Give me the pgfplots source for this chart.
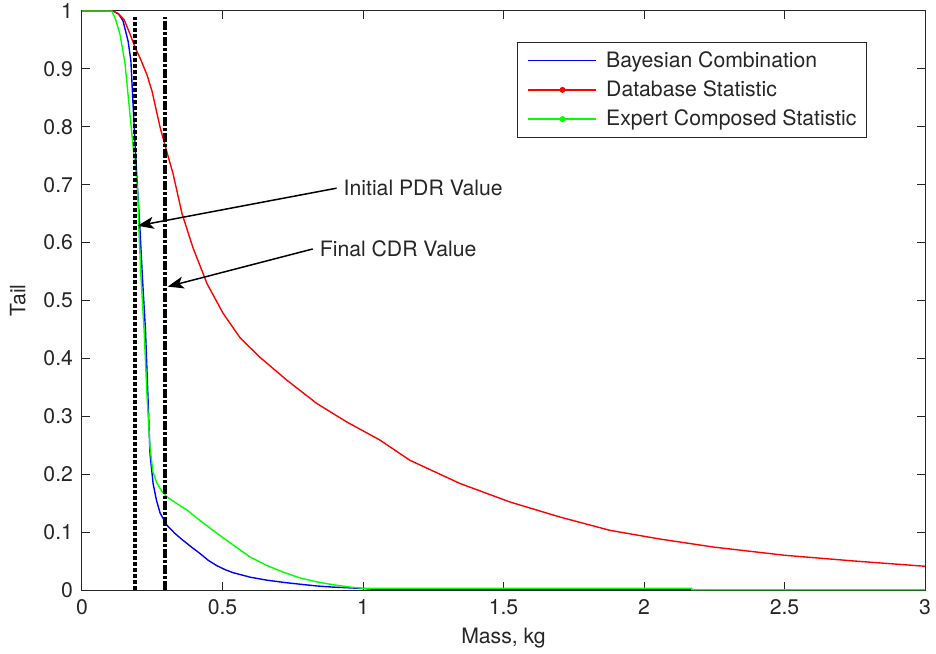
\documentclass[border=0pt]{standalone}
\usepackage{fontspec}
\setmainfont{TeX Gyre Heros}
\usepackage{pgfplots}
\pgfplotsset{compat=1.18}
\usetikzlibrary{arrows.meta}

\definecolor{axgray}{gray}{0.15}
\definecolor{mgreen}{rgb}{0,1,0}

\begin{document}
\begin{tikzpicture}[font=\fontsize{10.6}{12.7}\selectfont]
\begin{axis}[
    scale only axis,
    width=421.5pt,
    height=289.5pt,
    xmin=0, xmax=3,
    ymin=0, ymax=1,
    xtick={0,0.5,...,3},
    ytick={0,0.1,...,1},
    tick align=inside,
    major tick length=4pt,
    axis line style={axgray, line width=0.5pt},
    every tick/.style={axgray, line width=0.5pt},
    tick label style={text=axgray},
    /pgf/number format/assume math mode=true,
    xticklabel style={yshift=-1pt},
    yticklabel style={xshift=-1pt},
    xlabel={Mass, kg},
    ylabel={Tail},
    label style={text=axgray},
    ylabel style={yshift=2pt},
    legend style={at={(0.9312,0.9465)}, anchor=north east, draw=axgray,
        line width=0.5pt, text=axgray, row sep=1.2pt,
        inner xsep=3pt, inner ysep=2.5pt, font=\fontsize{10.6}{12.7}\selectfont},
    legend cell align=left,
    clip=false,
]
% data curves
\addplot[blue, line width=0.7pt, forget plot] coordinates {
(0,1) (0.11,1) (0.13,0.995) (0.146,0.983) (0.164,0.948) (0.174,0.914)
(0.181,0.845) (0.19,0.76) (0.196,0.707) (0.206,0.626) (0.215,0.54)
(0.226,0.448) (0.235,0.33) (0.242,0.236) (0.253,0.184) (0.265,0.155)
(0.278,0.133) (0.302,0.112) (0.33,0.098) (0.359,0.086) (0.39,0.074)
(0.42,0.063) (0.45,0.051) (0.48,0.042) (0.51,0.035) (0.537,0.03) (0.6,0.022)
(0.658,0.017) (0.72,0.013) (0.776,0.01) (0.835,0.007) (0.893,0.005)
(0.94,0.004) (0.982,0.003) (1.05,0.001) (2.17,0.001)
};
\addplot[red, line width=0.7pt, forget plot] coordinates {
(0,1) (0.11,1) (0.13,0.995) (0.15,0.985) (0.171,0.96) (0.189,0.937)
(0.21,0.915) (0.231,0.89) (0.249,0.862) (0.278,0.799) (0.3,0.76)
(0.324,0.719) (0.356,0.65) (0.395,0.591) (0.445,0.529) (0.502,0.478)
(0.562,0.436) (0.633,0.402) (0.73,0.362) (0.836,0.322) (0.943,0.29)
(1.06,0.259) (1.167,0.224) (1.345,0.184) (1.523,0.152) (1.701,0.126)
(1.879,0.103) (2.057,0.088) (2.25,0.074) (2.5,0.06) (2.75,0.05) (3,0.041)
};
\addplot[mgreen, line width=0.7pt, forget plot] coordinates {
(0,1) (0.106,1) (0.12,0.985) (0.135,0.96) (0.153,0.91) (0.171,0.82)
(0.181,0.77) (0.192,0.72) (0.199,0.68) (0.202,0.626) (0.21,0.54)
(0.221,0.448) (0.232,0.33) (0.242,0.247) (0.252,0.205) (0.267,0.184)
(0.285,0.17) (0.302,0.161) (0.335,0.15) (0.374,0.138) (0.42,0.12)
(0.48,0.098) (0.54,0.077) (0.598,0.057) (0.655,0.043) (0.715,0.031)
(0.775,0.021) (0.836,0.014) (0.895,0.009) (0.954,0.005) (1.0,0.003)
(2.17,0.003) (2.17,0.0005) (3,0.0005)
};
% reference values
\addplot[black, line width=2pt, dash pattern=on 2pt off 1pt, forget plot]
    coordinates {(0.19,0) (0.19,0.99)};
\addplot[black, line width=2pt, dash pattern=on 4.5pt off 1pt on 1.5pt off 1pt, forget plot]
    coordinates {(0.297,0) (0.297,0.99)};
% legend
\addlegendimage{empty legend}
\addlegendentry{\tikz[baseline=-0.6ex]{\draw[blue, line width=0.7pt] (0pt,0pt) -- (34pt,0pt);}\hspace{4.5pt}Bayesian Combination}
\addlegendimage{empty legend}
\addlegendentry{\tikz[baseline=-0.6ex]{\draw[red, line width=0.7pt] (0pt,0pt) -- (34pt,0pt);
    \fill[red] (17pt,0pt) circle (1.5pt);}\hspace{4.5pt}Database Statistic}
\addlegendimage{empty legend}
\addlegendentry{\tikz[baseline=-0.6ex]{\draw[mgreen, line width=0.7pt] (0pt,0pt) -- (34pt,0pt);
    \fill[mgreen] (17pt,0pt) circle (1.5pt);}\hspace{4.5pt}Expert Composed Statistic}
% annotations
\draw[black, line width=0.75pt, -{Stealth[length=8pt, width=6pt, inset=2pt]}]
    (axis cs:0.906,0.694) -- (axis cs:0.198,0.629);
\node[anchor=west, text=axgray, inner sep=0pt] at (axis cs:0.93,0.694) {Initial PDR Value};
\draw[black, line width=0.75pt, -{Stealth[length=8pt, width=6pt, inset=2pt]}]
    (axis cs:0.821,0.589) -- (axis cs:0.305,0.524);
\node[anchor=west, text=axgray, inner sep=0pt] at (axis cs:0.845,0.589) {Final CDR Value};
\coordinate (bl) at (rel axis cs:0,0);
\coordinate (tr) at (rel axis cs:1,1);
\end{axis}
\pgfresetboundingbox
\path[use as bounding box] ([shift={(-41pt,-31.5pt)}]bl) rectangle ([shift={(5.5pt,5.5pt)}]tr);
\end{tikzpicture}
\end{document}
